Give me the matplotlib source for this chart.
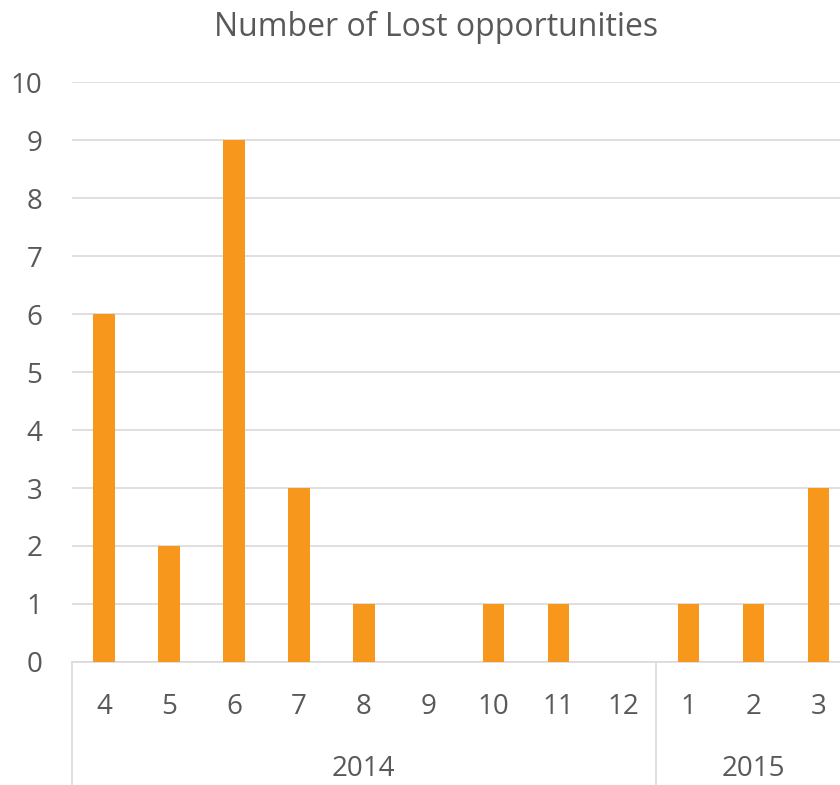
import numpy as np
import matplotlib.pyplot as plt

months = ["4", "5", "6", "7", "8", "9", "10", "11", "12", "1", "2", "3"]
years = ["2014", "2015"]
months_per_year = [9, 3]
lost = [6, 2, 9, 3, 1, 0, 1, 1, 0, 1, 1, 3]

plt.rcParams['font.family'] = ['Open Sans', 'DejaVu Sans']
text_color = '#595959'
grid_color = '#D9D9D9'
bar_color = '#F7981D'

W, H = 840, 785
fig = plt.figure(figsize=(W / 100, H / 100), dpi=100)
# axis runs past the right edge, as in the cropped original
left, right, bottom, top = 71.5, 851, 662, 82
ax = fig.add_axes([left / W, 1 - bottom / H, (right - left) / W, (bottom - top) / H])

x = np.arange(len(months))
ax.bar(x, lost, width=0.33, color=bar_color, zorder=3)
ax.set_xlim(-0.5, len(months) - 0.5)
ax.set_ylim(0, 10)
ax.set_yticks(range(0, 11))
ax.yaxis.grid(True, color=grid_color, linewidth=1.2, zorder=0)
ax.tick_params(axis='y', length=0, pad=21, labelsize=20, labelcolor=text_color)
ax.set_xticks(x)
ax.set_xticklabels(months)
ax.tick_params(axis='x', length=0, pad=22, labelsize=20, labelcolor=text_color)
for s in ['top', 'right', 'left']:
    ax.spines[s].set_visible(False)
ax.spines['bottom'].set_color(grid_color)
ax.spines['bottom'].set_linewidth(1.2)

# category group separators and year labels
trans = ax.get_xaxis_transform()
depth = -(H - bottom) / (bottom - top)
start = 0
edges = [-0.5]
for year, n in zip(years, months_per_year):
    mid = start + (n - 1) / 2
    ax.text(mid, -0.184, year, transform=trans, ha='center', va='center',
            fontsize=20, color=text_color)
    start += n
    edges.append(start - 0.5)
for e in edges:
    ax.plot([e, e], [0, depth], transform=trans, color=grid_color,
            linewidth=1.2, clip_on=False)

fig.text(436 / W, 1 - 27 / H, "Number of Lost opportunities", ha='center',
         va='center', fontsize=23, color=text_color)

fig.savefig('out.png', dpi=100)
